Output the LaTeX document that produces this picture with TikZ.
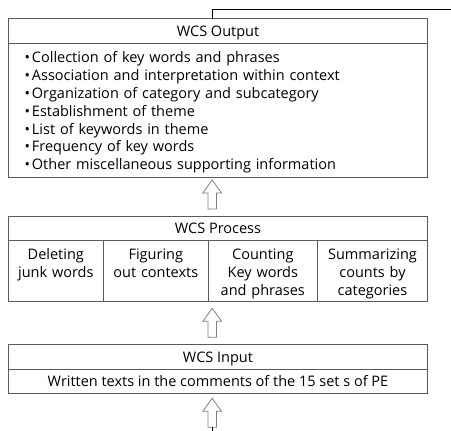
\documentclass[tikz,border=0pt]{standalone}
\usepackage{fontspec}
\setmainfont{Open Sans}
\usetikzlibrary{positioning,calc}

\begin{document}
\begin{tikzpicture}[
x=1pt, y=1pt,
boxnode/.style={rectangle, draw=black!65, line width=0.9pt, inner sep=0pt, outer sep=0pt, font=\fontsize{14.5}{17.8}\selectfont},
headnode/.style={boxnode, minimum width=419.4pt, minimum height=24.4pt, text height=10.6pt, text depth=0.6pt},
bodynode/.style={boxnode, text width=387pt, align=left, inner xsep=16.2pt, text height=19.7pt, text depth=115pt},
cellnode/.style={boxnode, text width=#1, align=center, text height=18.6pt, text depth=41.5pt},
blockarrow/.style={draw=black!50, fill=white, line width=0.8pt,
  to path={let \p1=(\tikztostart) in
    (\x1-4.2pt,\y1+7.5pt) -- (\x1-4.2pt,\y1+23.5pt) -- (\x1-9.35pt,\y1+23.5pt) -- (\x1,\y1+36.5pt)
    -- (\x1+9.35pt,\y1+23.5pt) -- (\x1+4.2pt,\y1+23.5pt) -- (\x1+4.2pt,\y1+7.5pt) -- cycle}},
link/.style={draw=black, line width=0.9pt}
]
\useasboundingbox (0,0) rectangle (451,-431);
%Nodes
\coordinate (axis) at (212.2,0);
\node[headnode]  (outhead)                         at (218,-31) {WCS Output};
\node[bodynode]  (outbody)  [below=0pt of outhead] {\textbullet\hspace{2pt}Collection of key words and phrases\\
\textbullet\hspace{2pt}Association and interpretation within context\\
\textbullet\hspace{2pt}Organization of category and subcategory\\
\textbullet\hspace{2pt}Establishment of theme\\
\textbullet\hspace{2pt}List of keywords in theme\\
\textbullet\hspace{2pt}Frequency of key words\\
\textbullet\hspace{2pt}Other miscellaneous supporting information};
\node[headnode]  (prochead)                        at (218,-228.7) {WCS Process};
\node[cellnode=95pt]    (delete)  [below right=0pt of prochead.south west] {Deleting\\junk words};
\node[cellnode=105pt]   (figure)  [right=0pt of delete]  {Figuring\\out contexts};
\node[cellnode=109pt]   (count)   [right=0pt of figure]  {Counting\\Key words\\and phrases};
\node[cellnode=110.4pt] (summary) [right=0pt of count]   {Summarizing\\counts by\\categories};
\node[headnode]  (inhead)                          at (218,-357) {WCS Input};
\node[headnode]  (inbody)   [below=0pt of inhead]  {Written texts in the comments of the 15 set s of PE};
\coordinate (feed)    at (212.2,-434.8);
\coordinate (outlink) at (451,-9.3);
%Lines
\draw[link] (outhead.north -| axis) |- (outlink);
\draw[blockarrow] (prochead.north -| axis) to (outbody.south -| axis);
\draw[blockarrow] (inhead.north -| axis) to (delete.south -| axis);
\draw[blockarrow] (feed) to (inbody.south -| axis);
\draw[link] (feed) -- ($(feed)+(0,7.5)$);
\end{tikzpicture}
\end{document}
